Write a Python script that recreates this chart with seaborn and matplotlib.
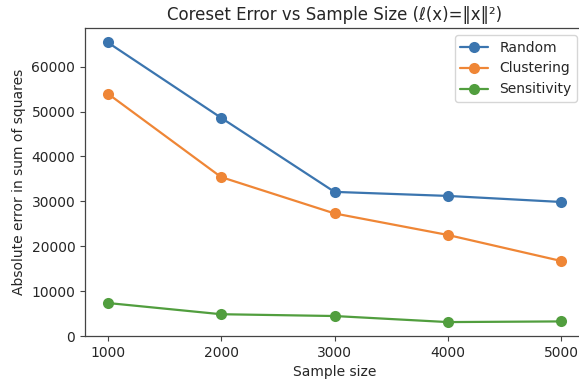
import matplotlib
matplotlib.use("Agg")
import matplotlib.pyplot as plt
import seaborn as sns
import pandas as pd

sample_sizes = [1000, 2000, 3000, 4000, 5000]
random_err = [65400, 48600, 32100, 31200, 29850]
clustering_err = [54000, 35400, 27300, 22500, 16700]
sensitivity_err = [7350, 4850, 4450, 3100, 3250]
methods = ["Random", "Clustering", "Sensitivity"]

df = pd.DataFrame({
    "Sample size": sample_sizes * 3,
    "error": random_err + clustering_err + sensitivity_err,
    "method": [m for m in methods for _ in sample_sizes],
})

sns.set_style("white")
plt.rcParams["font.family"] = ["DejaVu Sans"]

fig = plt.figure(figsize=(5.79, 3.79), dpi=100)
ax = fig.add_axes([85 / 579, 1 - 336 / 379, (584 - 85) / 579, (336 - 28) / 379])

palette = ["#3b75af", "#ef8636", "#519e3e"]
sns.lineplot(data=df, x="Sample size", y="error", hue="method", palette=palette,
             marker="o", markersize=8, markeredgewidth=0, linewidth=1.6, ax=ax)

ax.set_ylim(0, 68600)
ax.set_xlim(800, 5200)
ax.set_xticks(sample_sizes)
ax.set_title("Coreset Error vs Sample Size (\u2113(x)=\u2016x\u2016\u00b2)", fontsize=12)
ax.set_xlabel("Sample size", fontsize=10)
ax.set_ylabel("Absolute error in sum of squares", fontsize=10)
ax.tick_params(axis="both", which="major", length=3.5, width=0.8, color="#444444",
               labelsize=10, bottom=True, left=True)
for s in ax.spines.values():
    s.set_color("#444444")
    s.set_linewidth(0.9)
leg = ax.legend(loc="upper right", fontsize=10, title=None)

fig.savefig("out.png", dpi=100)
